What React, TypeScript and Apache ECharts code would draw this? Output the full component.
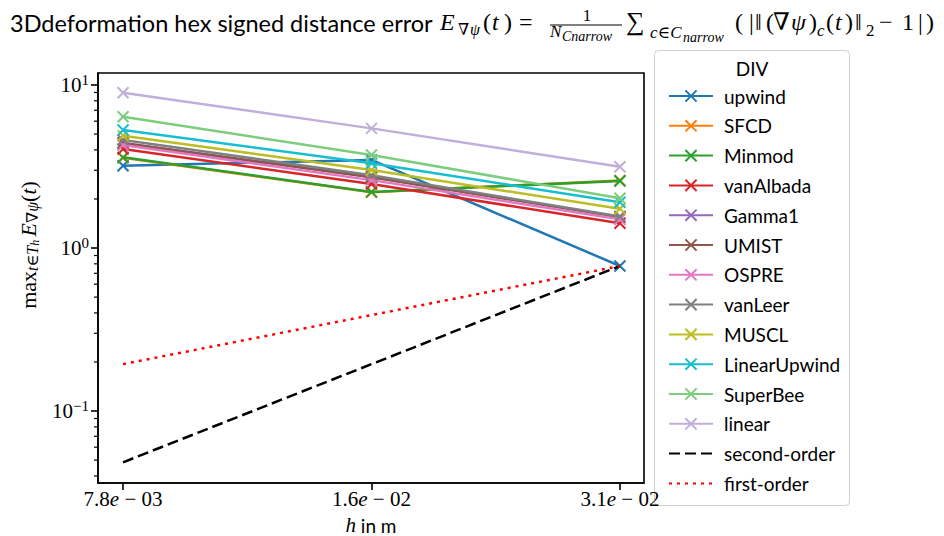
import React, { useEffect, useRef } from "react";
import * as echarts from "echarts";

// ---- data ----
const hValues = [0.0078125, 0.015625, 0.03125];
const xTickMantissa = ["7.8", "1.6", "3.1"];
const xTickExponent = ["03", "02", "02"];

const seriesNames = [
  "upwind", "SFCD", "Minmod", "vanAlbada", "Gamma1", "UMIST", "OSPRE",
  "vanLeer", "MUSCL", "LinearUpwind", "SuperBee", "linear",
];
const seriesColors = [
  "#1f77b4", "#ff7f0e", "#2ca02c", "#d62728", "#9467bd", "#8c564b", "#e377c2",
  "#7f7f7f", "#bcbd22", "#17becf", "#7dcd7d", "#c2aedb",
];
const upwind = [3.2, 3.47, 0.776];
const SFCD = [3.58, 2.2, 2.6];
const Minmod = [3.6, 2.21, 2.58];
const vanAlbada = [4.05, 2.47, 1.42];
const Gamma1 = [4.41, 2.73, 1.55];
const UMIST = [4.4, 2.72, 1.55];
const OSPRE = [4.28, 2.61, 1.5];
const vanLeer = [4.6, 2.8, 1.56];
const MUSCL = [4.89, 3.01, 1.74];
const LinearUpwind = [5.3, 3.31, 1.91];
const SuperBee = [6.39, 3.72, 2.02];
const linear = [8.97, 5.42, 3.15];
const seriesValues = [
  upwind, SFCD, Minmod, vanAlbada, Gamma1, UMIST, OSPRE,
  vanLeer, MUSCL, LinearUpwind, SuperBee, linear,
];
const secondOrder = [0.0485, 0.194, 0.776];
const firstOrder = [0.194, 0.388, 0.776];

const yMinorTicks = [
  0.04, 0.05, 0.06, 0.07, 0.08, 0.09,
  0.2, 0.3, 0.4, 0.5, 0.6, 0.7, 0.8, 0.9,
  2, 3, 4, 5, 6, 7, 8, 9,
];

const X_MIN = 0.007285;
const X_MAX = 0.03342;
const Y_MIN = 0.0362;
const Y_MAX = 11.85;

const CROSS = "path://M0,0L10,10M10,0L0,10";
const SERIF_F = "'Liberation Serif', 'DejaVu Serif', serif";
const SANS_F = "Lato, 'Liberation Sans', sans-serif";

function txt(x: number, baseline: number, text: string, size: number, opts: any = {}) {
  const family = opts.sans ? SANS_F : SERIF_F;
  const style = opts.italic ? "italic " : "";
  return {
    type: "text",
    x,
    y: baseline - 0.35 * size,
    silent: true,
    style: {
      text,
      font: `${style}${size}px ${family}`,
      fill: "#000",
      align: opts.align || "left",
      verticalAlign: "middle",
      textAlign: opts.align || "left",
      textVerticalAlign: "middle",
    },
  };
}

export default function App() {
  const ref = useRef<HTMLDivElement>(null);
  useEffect(() => {
    if (!ref.current) return;
    const chart = echarts.init(ref.current, null, { renderer: "svg" });

    const lineSeries: any[] = seriesNames.map((name, i) => ({
      type: "line",
      name,
      data: hValues.map((h, k) => [h, seriesValues[i][k]]),
      symbol: CROSS,
      symbolSize: 11,
      showSymbol: true,
      lineStyle: { color: seriesColors[i], width: 2.5 },
      itemStyle: { color: seriesColors[i], borderColor: seriesColors[i], borderWidth: 2 },
      emphasis: { disabled: true },
      z: 2 + i * 0.01,
    }));
    lineSeries.push({
      type: "line",
      name: "second-order",
      data: hValues.map((h, k) => [h, secondOrder[k]]),
      symbol: "none",
      lineStyle: { color: "#000", width: 2.5, type: [11, 5] },
      itemStyle: { color: "rgba(0,0,0,0)", borderColor: "rgba(0,0,0,0)" },
      emphasis: { disabled: true },
      z: 3,
    });
    lineSeries.push({
      type: "line",
      name: "first-order",
      data: hValues.map((h, k) => [h, firstOrder[k]]),
      symbol: "none",
      lineStyle: { color: "#ff0000", width: 2.5, type: [3, 5] },
      itemStyle: { color: "rgba(0,0,0,0)", borderColor: "rgba(0,0,0,0)" },
      emphasis: { disabled: true },
      z: 3.1,
    });
    lineSeries.push({
      type: "custom",
      name: "minorTicks",
      data: yMinorTicks.map((v) => [X_MIN, v]),
      clip: false,
      silent: true,
      renderItem: (params: any, api: any) => {
        const p = api.coord([api.value(0), api.value(1)]);
        return {
          type: "line",
          shape: { x1: p[0] - 4, y1: p[1], x2: p[0], y2: p[1] },
          style: { stroke: "#000", lineWidth: 1.2 },
        };
      },
      z: 4,
    });

    const titleGraphics: any[] = [
      txt(10, 31, "3Ddeformation hex signed distance error", 23.5, { sans: true }),
      txt(440, 30, "E", 24, { italic: true }),
      txt(458, 35, "∇", 16),
      txt(470, 35, "ψ", 16, { italic: true }),
      txt(483, 30, "(", 24),
      txt(492, 30, "t", 24, { italic: true }),
      txt(504, 30, ")", 24),
      txt(519, 30, "=", 24),
      txt(587, 21, "1", 17, { align: "center" }),
      {
        type: "line",
        silent: true,
        shape: { x1: 550, y1: 25, x2: 622, y2: 25 },
        style: { stroke: "#000", lineWidth: 1 },
      },
      txt(550, 37, "N", 17, { italic: true }),
      txt(562, 41, "Cnarrow", 14, { italic: true }),
      txt(626, 31, "∑", 26),
      txt(650, 38, "c∈C", 17, { italic: true }),
      txt(683, 42, "narrow", 14, { italic: true }),
      txt(735, 30, "(", 24),
      txt(749, 30, "|", 24),
      txt(755, 30, "‖", 24),
      txt(766, 30, "(", 24),
      txt(773, 30, "∇", 24),
      txt(791, 30, "ψ", 24, { italic: true }),
      txt(809, 30, ")", 24),
      txt(817, 36, "c", 17, { italic: true }),
      txt(826, 30, "(", 24),
      txt(835, 30, "t", 24, { italic: true }),
      txt(845, 30, ")", 24),
      txt(855, 30, "‖", 24),
      txt(866, 36, "2", 17),
      txt(879, 30, "−", 24),
      txt(902, 30, "1", 24),
      txt(918, 30, "|", 24),
      txt(926, 30, ")", 24),
    ];

    const legendGraphics: any[] = [
      {
        type: "rect",
        silent: true,
        shape: { x: 654.5, y: 50.5, width: 195, height: 455, r: 4 },
        style: { fill: "rgba(255,255,255,0.8)", stroke: "#d0d0d0", lineWidth: 1 },
        z: 0,
      },
      txt(752, 75, "DIV", 19, { sans: true, align: "center" }),
    ];

    const axisGraphics: any[] = [
      {
        type: "text",
        silent: true,
        x: 28,
        y: 245,
        rotation: Math.PI / 2,
        style: {
          text: "{n|max}{s|t∈T}{ss|h} {i|E}{s|∇ψ}{n|(}{i|t}{n|)}",
          align: "center",
          verticalAlign: "middle",
          textAlign: "center",
          textVerticalAlign: "middle",
          fill: "#000",
          rich: {
            n: { fontSize: 22, fontFamily: SERIF_F },
            i: { fontSize: 22, fontFamily: SERIF_F, fontStyle: "italic" },
            s: { fontSize: 16, fontFamily: SERIF_F, fontStyle: "italic", padding: [9, 0, 0, 0] },
            ss: { fontSize: 12, fontFamily: SERIF_F, fontStyle: "italic", padding: [14, 0, 0, 0] },
          },
        },
      },
      {
        type: "text",
        silent: true,
        x: 371,
        y: 525,
        style: {
          text: "{i|h}{s| in m}",
          align: "center",
          verticalAlign: "middle",
          textAlign: "center",
          textVerticalAlign: "middle",
          fill: "#000",
          rich: {
            i: { fontSize: 21, fontFamily: SERIF_F, fontStyle: "italic", lineHeight: 20 },
            s: { fontSize: 19, fontFamily: SANS_F, lineHeight: 20 },
          },
        },
      },
    ];

    chart.setOption({
      animation: false,
      backgroundColor: "#fff",
      grid: {
        left: 98,
        top: 73,
        width: 546,
        height: 410,
        show: true,
        borderColor: "#000",
        borderWidth: 1.6,
        backgroundColor: "transparent",
      },
      xAxis: {
        type: "log",
        logBase: 2,
        min: X_MIN,
        max: X_MAX,
        axisLine: { show: true, lineStyle: { color: "#000", width: 1.6 } },
        axisTick: { show: true, length: 7, lineStyle: { color: "#000", width: 1.6 } },
        minorTick: { show: false },
        splitLine: { show: false },
        axisLabel: {
          showMinLabel: false,
          showMaxLabel: false,
          margin: 6,
          formatter: (v: number) => {
            for (let i = 0; i < hValues.length; i++) {
              if (Math.abs(v - hValues[i]) / hValues[i] < 1e-3) {
                return `{n|${xTickMantissa[i]}}{i|e}{n| − ${xTickExponent[i]}}`;
              }
            }
            return "";
          },
          rich: {
            n: { fontSize: 21, fontFamily: SERIF_F, color: "#000", lineHeight: 20 },
            i: { fontSize: 21, fontFamily: SERIF_F, fontStyle: "italic", color: "#000", lineHeight: 20 },
          },
        },
      },
      yAxis: {
        type: "log",
        logBase: 10,
        min: Y_MIN,
        max: Y_MAX,
        axisLine: { show: true, lineStyle: { color: "#000", width: 1.6 } },
        axisTick: { show: true, length: 7, lineStyle: { color: "#000", width: 1.6 } },
        minorTick: { show: false },
        splitLine: { show: false },
        axisLabel: {
          showMinLabel: false,
          showMaxLabel: false,
          margin: 9,
          formatter: (v: number) => {
            const e = Math.round(Math.log10(v));
            if (Math.abs(Math.log10(v) - e) > 1e-3) return "";
            return `{b|10}{s|${e < 0 ? "−" + -e : e}}`;
          },
          rich: {
            b: { fontSize: 21, fontFamily: SERIF_F, color: "#000" },
            s: { fontSize: 15, fontFamily: SERIF_F, color: "#000", padding: [0, 0, 11, 0] },
          },
        },
      },
      legend: {
        show: true,
        orient: "vertical",
        left: 663,
        top: 81,
        itemWidth: 44,
        itemHeight: 14,
        itemGap: 9.8,
        data: [...seriesNames, "second-order", "first-order"],
        textStyle: { fontFamily: SANS_F, fontSize: 19, color: "#000", lineHeight: 20, padding: [0, 0, 0, 6] },
        selectedMode: false,
      },
      graphic: [...legendGraphics, ...titleGraphics, ...axisGraphics],
      series: lineSeries,
    });
    return () => chart.dispose();
  }, []);
  return (
    <div
      ref={ref}
      style={{ position: "fixed", left: 0, top: 0, width: 944, height: 536, background: "#fff" }}
    />
  );
}
